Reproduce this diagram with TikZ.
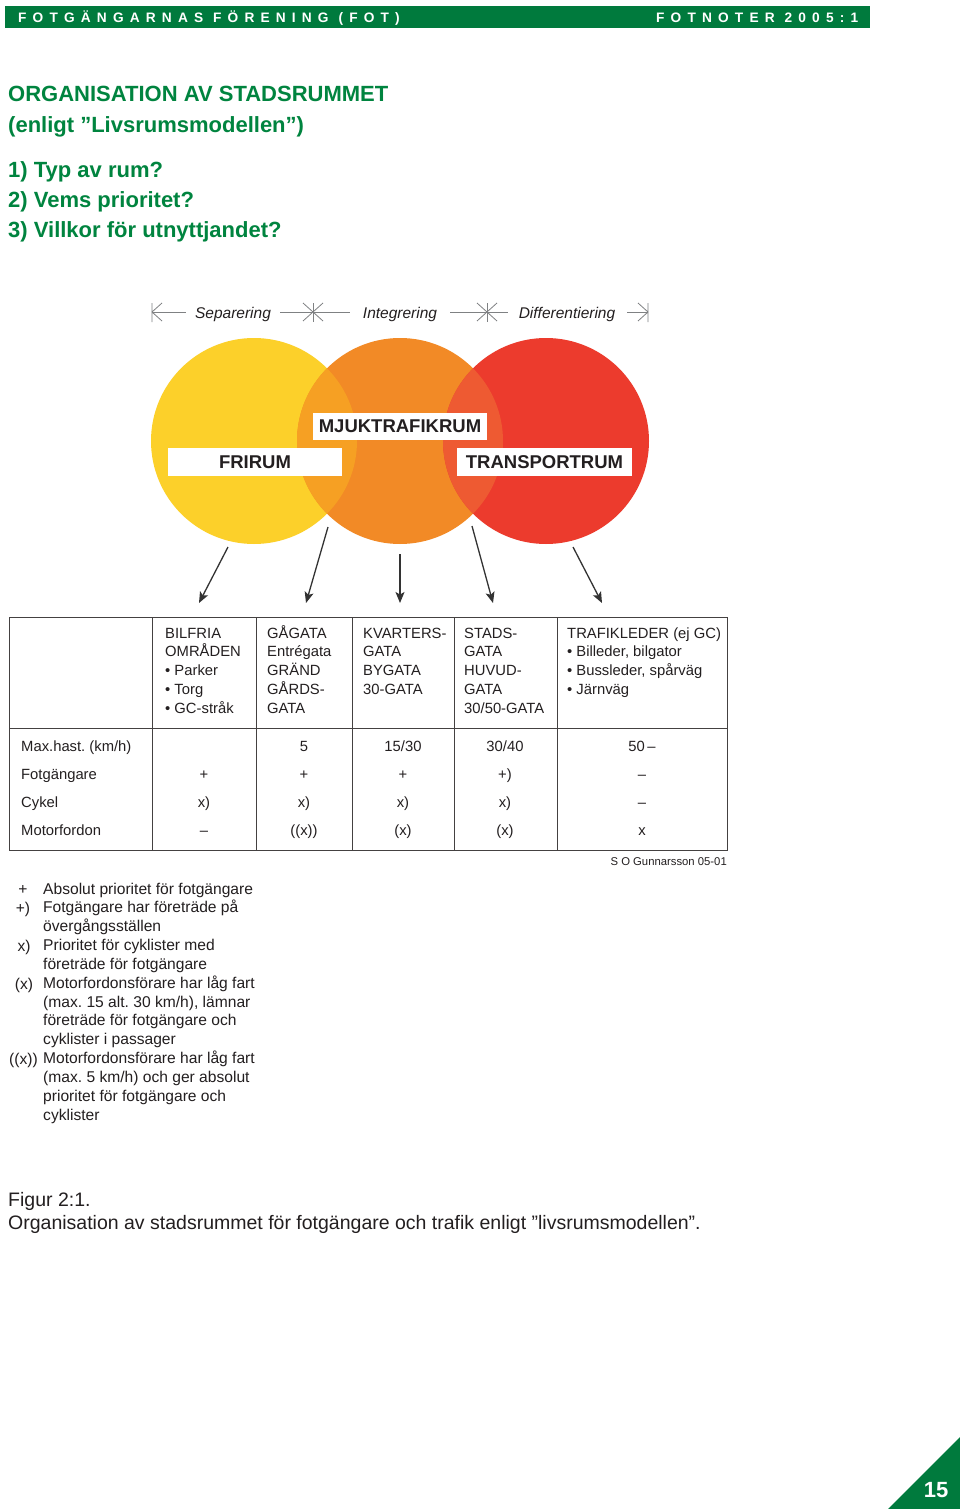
\documentclass[tikz,border=0pt]{standalone}
\usepackage{fontspec}
\setmainfont{Liberation Sans}
\newfontfamily\hdrfont{Liberation Sans}[LetterSpace=45]
\usetikzlibrary{arrows.meta}
\definecolor{hdrgreen}{HTML}{007A3D}
\definecolor{ttlgreen}{HTML}{00843F}
\definecolor{ink}{HTML}{231F20}
\definecolor{arrowink}{HTML}{333333}
\definecolor{cyel}{HTML}{FCD02A}
\definecolor{cora}{HTML}{F28A26}
\definecolor{cred}{HTML}{EC3B2D}
\definecolor{cyo}{HTML}{F6A023}
\definecolor{cor}{HTML}{EE5A32}
\definecolor{scalegray}{HTML}{7F8183}
\tikzset{
  title/.style={inner sep=0pt, text=ttlgreen, anchor=base west, font=\fontsize{22}{24}\selectfont\bfseries},
  hdr/.style={inner sep=0pt, text=white, anchor=base west, font=\fontsize{13.7}{15}\selectfont\hdrfont\bfseries},
  scalelbl/.style={inner sep=0pt, text=ink, anchor=base, font=\fontsize{15.5}{18}\selectfont\itshape},
  scaleln/.style={draw=scalegray, line width=0.8pt},
  roomlbl/.style={fill=white, inner sep=0pt, text=ink, font=\fontsize{18.5}{20}\selectfont\bfseries},
  pointer/.style={draw=arrowink, line width=1.3pt, -{Stealth[length=11pt,width=9pt,inset=2.5pt]}},
  tbl/.style={draw=ink!85, line width=0.9pt},
  cell/.style={inner sep=0pt, text=ink, anchor=base west, font=\fontsize{14.8}{17}\selectfont},
  val/.style={inner sep=0pt, text=ink, anchor=base, font=\fontsize{14.8}{17}\selectfont},
  leg/.style={inner sep=0pt, text=ink, anchor=base west, font=\fontsize{15.6}{17}\selectfont},
  legsym/.style={inner sep=0pt, text=ink, anchor=base, font=\fontsize{15.6}{17}\selectfont},
  figcap/.style={inner sep=0pt, text=ink, anchor=base west, font=\fontsize{19.5}{21}\selectfont}
}
\begin{document}
\frenchspacing
\begin{tikzpicture}[x=1pt,y=-1pt]
\useasboundingbox[fill=white] (0,0) rectangle (960,1509);

% header bar
\fill[hdrgreen] (5,6) rectangle (870,28);
\node[hdr] (hdrL) at (18,22.5) {FOTGÄNGARNAS FÖRENING (FOT)};
\node[hdr] (hdrR) at (656,22.5) {FOTNOTER 2005:1};

% titles
\node[title] (t1) at (8,102) {ORGANISATION AV STADSRUMMET};
\node[title] (t2) at (8,132) {(enligt ”Livsrumsmodellen”)};
\node[title] (q1) at (8,177) {1) Typ av rum?};
\node[title] (q2) at (8,207) {2) Vems prioritet?};
\node[title] (q3) at (8,237) {3) Villkor för utnyttjandet?};

% scale line
\node[scalelbl] (sep) at (233,318) {Separering};
\node[scalelbl] (int) at (400,318) {Integrering};
\node[scalelbl] (dif) at (567,318) {Differentiering};
\coordinate (e0) at (152,312);
\coordinate (e1) at (313,312);
\coordinate (e2) at (487,312);
\coordinate (e3) at (648,312);
\draw[scaleln] (e0) -- (186,312);
\draw[scaleln] (280,312) -- (350,312);
\draw[scaleln] (450,312) -- (508,312);
\draw[scaleln] (627,312) -- (e3);
\draw[scaleln] (152,303) -- (152,322) (162,303) -- (e0) -- (162,321);
\draw[scaleln] (648,303) -- (648,322) (638,303) -- (e3) -- (638,321);
\foreach \c in {e1,e2}{
  \draw[scaleln] ([yshift=-9.5pt]\c) -- ([yshift=9.5pt]\c);
  \draw[scaleln] ([shift={(-10pt,-9pt)}]\c) -- ([shift={(10pt,9pt)}]\c);
  \draw[scaleln] ([shift={(-10pt,9pt)}]\c) -- ([shift={(10pt,-9pt)}]\c);
}

% circles
\coordinate (cY) at (254,441);
\coordinate (cO) at (400,441);
\coordinate (cR) at (546,441);
\fill[cyel] (cY) circle[radius=103pt];
\fill[cora] (cO) circle[radius=103pt];
\fill[cred] (cR) circle[radius=103pt];
\begin{scope}
  \clip (cY) circle[radius=103pt];
  \fill[cyo] (cO) circle[radius=103pt];
\end{scope}
\begin{scope}
  \clip (cR) circle[radius=103pt];
  \fill[cor] (cO) circle[radius=103pt];
\end{scope}

\node[roomlbl, minimum width=174pt, minimum height=27pt] (mjuk) at (400,426.5) {MJUKTRAFIKRUM};
\node[roomlbl, minimum width=174pt, minimum height=28pt] (fri) at (255,462) {FRIRUM};
\node[roomlbl, minimum width=175pt, minimum height=28pt] (trans) at (544.5,462) {TRANSPORTRUM};

% pointers
\coordinate (a1s) at (228,547); \coordinate (a1e) at (199,603);
\coordinate (a2s) at (328,527); \coordinate (a2e) at (306,603);
\coordinate (a3s) at (400,554); \coordinate (a3e) at (400,603);
\coordinate (a4s) at (472,526); \coordinate (a4e) at (493,603);
\coordinate (a5s) at (573,547); \coordinate (a5e) at (602,603);
\foreach \i in {1,...,5}{\draw[pointer] (a\i s) -- (a\i e);}

% table
\draw[tbl] (9.5,617) rectangle (727,850);
\draw[tbl] (9.5,728) -- (727,728);
\foreach \x in {152,256,352,454,557}{\draw[tbl] (\x,617) -- (\x,850);}

\foreach \t [count=\i] in {BILFRIA,OMRÅDEN,• Parker,• Torg,• GC-stråk}
  \node[cell] (ha\i) at (165,{638+18.8*(\i-1)}) {\t};
\foreach \t [count=\i] in {GÅGATA,Entrégata,GRÄND,GÅRDS-,GATA}
  \node[cell] (hb\i) at (267,{638+18.8*(\i-1)}) {\t};
\foreach \t [count=\i] in {KVARTERS-,GATA,BYGATA,30-GATA}
  \node[cell] (hc\i) at (363,{638+18.8*(\i-1)}) {\t};
\foreach \t [count=\i] in {STADS-,GATA,HUVUD-,GATA,30/50-GATA}
  \node[cell] (hd\i) at (464,{638+18.8*(\i-1)}) {\t};
\foreach \t [count=\i] in {TRAFIKLEDER (ej GC),{• Billeder, bilgator},{• Bussleder, spårväg},• Järnväg}
  \node[cell] (he\i) at (567,{638+18.8*(\i-1)}) {\t};

\foreach \t [count=\i] in {Max.hast. (km/h),Fotgängare,Cykel,Motorfordon}
  \node[cell] (rl\i) at (21,{751+28*(\i-1)}) {\t};

% values: columns centres 204,304,403,505,642
\node[val] (v12) at (304,751) {5};
\node[val] (v13) at (403,751) {15/30};
\node[val] (v14) at (505,751) {30/40};
\node[val] (v15) at (642,751) {50\,–};
\node[val] (v21) at (204,779) {+};
\node[val] (v22) at (304,779) {+};
\node[val] (v23) at (403,779) {+};
\node[val] (v24) at (505,779) {+)};
\node[val] (v25) at (642,779) {–};
\node[val] (v31) at (204,807) {x)};
\node[val] (v32) at (304,807) {x)};
\node[val] (v33) at (403,807) {x)};
\node[val] (v34) at (505,807) {x)};
\node[val] (v35) at (642,807) {–};
\node[val] (v41) at (204,835) {–};
\node[val] (v42) at (304,835) {((x))};
\node[val] (v43) at (403,835) {(x)};
\node[val] (v44) at (505,835) {(x)};
\node[val] (v45) at (642,835) {x};

\node[inner sep=0pt, text=ink, anchor=base east, font=\fontsize{11.3}{13}\selectfont] (author) at (727,865) {S O Gunnarsson 05-01};

% legend
\node[legsym] (s1) at (23,894) {+};
\node[legsym] (s2) at (23,913) {+)};
\node[legsym] (s3) at (24,951) {x)};
\node[legsym] (s4) at (24,989) {(x)};
\node[legsym] (s5) at (23.5,1064) {((x))};
\foreach \t [count=\i] in {Absolut prioritet för fotgängare,Fotgängare har företräde på,övergångsställen,Prioritet för cyklister med,företräde för fotgängare,Motorfordonsförare har låg fart,{(max. 15 alt. 30 km/h), lämnar},företräde för fotgängare och,cyklister i passager,Motorfordonsförare har låg fart,(max. 5 km/h) och ger absolut,prioritet för fotgängare och,cyklister}
  \node[leg] (l\i) at (43,{894+18.85*(\i-1)}) {\t};

% caption
\node[figcap] (fig) at (8,1206) {Figur 2:1.};
\node[figcap] (figtxt) at (8,1229) {Organisation av stadsrummet för fotgängare och trafik enligt ”livsrumsmodellen”.};

% page number
\fill[hdrgreen] (888,1509) -- (960,1437) -- (960,1509) -- cycle;
\node[inner sep=0pt, text=white, font=\fontsize{22}{24}\selectfont\bfseries] (pg) at (936,1490) {15};
\end{tikzpicture}
\end{document}
